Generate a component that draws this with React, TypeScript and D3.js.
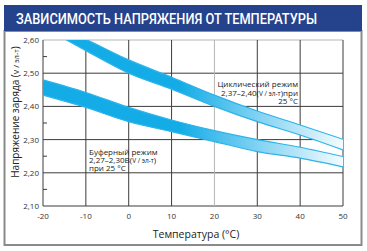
import { useEffect, useRef } from "react";
import * as d3 from "d3";
import React from "react";

const WIDTH = 367;
const HEIGHT = 251;
const PLOT = { left: 43, right: 343, top: 40, bottom: 206 };
const FONT = "'Open Sans', 'Noto Sans', sans-serif";
const CYAN = "#14ace6";

const temps = [-20, -10, 0, 10, 20, 30, 40, 50];
const cyclicTop = [2.66, 2.602, 2.54, 2.488, 2.434, 2.386, 2.344, 2.301];
const cyclicBottom = [2.64, 2.568, 2.5, 2.452, 2.4, 2.354, 2.314, 2.269];
const bufferTop = [2.48, 2.442, 2.397, 2.359, 2.327, 2.3, 2.277, 2.249];
const bufferBottom = [2.434, 2.397, 2.354, 2.324, 2.294, 2.264, 2.244, 2.218];

const xTicks = [-20, -10, 0, 10, 20, 30, 40, 50];
const yTicks = [2.1, 2.2, 2.3, 2.4, 2.5, 2.6];
const yMinorTicks = [2.15, 2.25, 2.35, 2.45, 2.55];

const fmt = (v: number) => v.toFixed(2).replace(".", ",");

export default function App() {
  const axesRef = useRef(null);

  const xScale = d3.scaleLinear().domain([-20, 50]).range([PLOT.left, PLOT.right]);
  const yScale = d3.scaleLinear().domain([2.1, 2.6]).range([PLOT.bottom, PLOT.top]);

  const band = (top: number[], bottom: number[]) =>
    d3
      .area<number>()
      .x((t) => xScale(t))
      .y0((_, i) => yScale(bottom[i]))
      .y1((_, i) => yScale(top[i]))
      .curve(d3.curveMonotoneX)(temps) || "";

  const edge = (vals: number[]) =>
    d3
      .line<number>()
      .x((t) => xScale(t))
      .y((_, i) => yScale(vals[i]))
      .curve(d3.curveMonotoneX)(temps) || "";

  // grid, ticks and labels through d3
  useEffect(() => {
    const g = d3.select(axesRef.current);
    g.selectAll("*").remove();

    g.selectAll("line.h")
      .data(yTicks)
      .join("line")
      .attr("x1", PLOT.left)
      .attr("x2", PLOT.right)
      .attr("y1", (d) => yScale(d))
      .attr("y2", (d) => yScale(d))
      .attr("stroke", (d) => (d === 2.6 ? "#b5b5b5" : "#3c3c3c"))
      .attr("stroke-width", 1);

    g.selectAll("line.v")
      .data(xTicks)
      .join("line")
      .attr("x1", (d) => xScale(d))
      .attr("x2", (d) => xScale(d))
      .attr("y1", PLOT.top)
      .attr("y2", PLOT.bottom)
      .attr("stroke", (d) => (d === 20 ? "#b5b5b5" : "#3c3c3c"))
      .attr("stroke-width", 1);

    g.selectAll("line.minor")
      .data(yMinorTicks)
      .join("line")
      .attr("x1", PLOT.left)
      .attr("x2", PLOT.left + 4)
      .attr("y1", (d) => yScale(d))
      .attr("y2", (d) => yScale(d))
      .attr("stroke", "#3c3c3c");

    g.selectAll("text.y")
      .data(yTicks)
      .join("text")
      .attr("x", PLOT.left - 4)
      .attr("y", (d) => yScale(d) + 3)
      .attr("text-anchor", "end")
      .style("font-family", FONT)
      .style("font-size", "8px")
      .style("fill", "#333")
      .text((d) => fmt(d));

    g.selectAll("text.x")
      .data(xTicks)
      .join("text")
      .attr("x", (d) => xScale(d))
      .attr("y", PLOT.bottom + 13)
      .attr("text-anchor", "middle")
      .style("font-family", FONT)
      .style("font-size", "8px")
      .style("fill", "#333")
      .text((d) => d);
  }, []);

  return (
    <svg
      width={WIDTH}
      height={HEIGHT}
      style={{ position: "absolute", left: 0, top: 0, background: "#fff" }}
    >
      <defs>
        <linearGradient
          id="fade"
          gradientUnits="userSpaceOnUse"
          x1={xScale(12)}
          x2={xScale(50)}
          y1={0}
          y2={0}
        >
          <stop offset="0" stopColor={CYAN} />
          <stop offset="0.5" stopColor="#86d4f3" />
          <stop offset="1" stopColor="#f4fbfe" />
        </linearGradient>
        <clipPath id="plot">
          <rect
            x={PLOT.left}
            y={PLOT.top}
            width={PLOT.right - PLOT.left}
            height={PLOT.bottom - PLOT.top}
          />
        </clipPath>
      </defs>

      {/* panel */}
      <rect x={4.5} y={31} width={357} height={214} fill="#fff" stroke="#8a8a8a" strokeWidth={2} />
      <rect x={4} y={5} width={358} height={26} fill="#25428c" />
      <text
        x={16}
        y={24}
        fill="#fff"
        textLength={301}
        lengthAdjust="spacingAndGlyphs"
        style={{ fontFamily: "Roboto, sans-serif", fontSize: 14, fontWeight: 500 }}
      >
        ЗАВИСИМОСТЬ НАПРЯЖЕНИЯ ОТ ТЕМПЕРАТУРЫ
      </text>

      <g ref={axesRef} />

      <g clipPath="url(#plot)">
        {[
          [cyclicTop, cyclicBottom],
          [bufferTop, bufferBottom],
        ].map(([top, bottom], i) => (
          <g key={i}>
            <path d={band(top, bottom)} fill="url(#fade)" />
            <path d={edge(top)} fill="none" stroke="#2cb4ea" strokeWidth={1.2} />
            <path d={edge(bottom)} fill="none" stroke="#2cb4ea" strokeWidth={1.2} />
          </g>
        ))}
      </g>

      {/* annotations */}
      <g style={{ fontFamily: FONT, fontSize: 8, fill: "#222" }}>
        <text x={298} y={87} textAnchor="end">Циклический режим</text>
        <text x={298} y={95.5} textAnchor="end">
          2,37–2,40(<tspan style={{ fontSize: 6.5 }}>V / эл-т</tspan>)при
        </text>
        <text x={298} y={104} textAnchor="end">25 °C</text>

        <text x={89} y={155}>Буферный режим</text>
        <text x={89} y={163}>
          2,27–2,30В(<tspan style={{ fontSize: 6.5 }}>V / эл-т</tspan>)
        </text>
        <text x={89} y={171}>при 25 °C</text>
      </g>

      <text
        x={196}
        y={238}
        textAnchor="middle"
        style={{ fontFamily: FONT, fontSize: 10.5, fill: "#222" }}
      >
        Температура (°C)
      </text>
      <text
        transform={`translate(19,${112}) rotate(-90)`}
        textAnchor="middle"
        style={{ fontFamily: FONT, fontSize: 10, fill: "#222" }}
      >
        Напряжение заряда (<tspan style={{ fontSize: 7.5 }}>V / эл-т</tspan>)
      </text>
    </svg>
  );
}
